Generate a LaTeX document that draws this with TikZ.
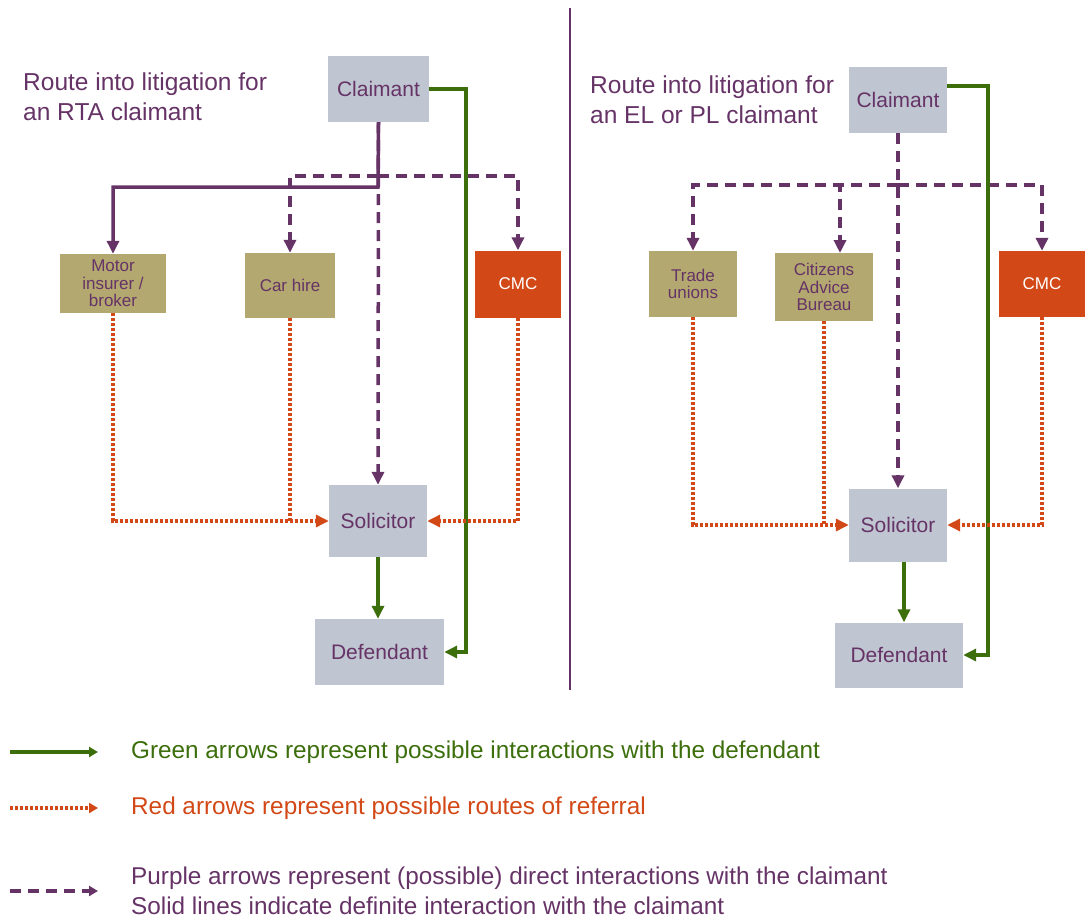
\documentclass[tikz,border=0pt]{standalone}
\usepackage{fontspec}
\setmainfont{Liberation Sans}
\usetikzlibrary{arrows.meta}

\definecolor{plum}{RGB}{102,51,102}
\definecolor{leaf}{RGB}{60,110,12}
\definecolor{rust}{RGB}{210,72,22}
\definecolor{slate}{RGB}{191,197,209}
\definecolor{khaki}{RGB}{178,168,112}

\tikzset{
  party/.style={fill=slate, text=plum, inner sep=0pt, font=\fontsize{21}{25}\selectfont},
  agent/.style={fill=khaki, text=plum, inner sep=0pt, align=center, font=\fontsize{17}{17.5}\selectfont},
  cmcbox/.style={fill=rust, text=white, inner sep=0pt, font=\fontsize{17}{20}\selectfont},
  heading/.style={anchor=west, text=plum, align=left, inner sep=0pt, font=\fontsize{24.5}{30}\selectfont},
  keytext/.style={anchor=west, align=left, inner sep=0pt, font=\fontsize{24.3}{30}\selectfont},
  greenline/.style={draw=leaf, line width=3.5pt, -{Triangle[length=13pt,width=12pt]}},
  purpleline/.style={draw=plum, line width=3.5pt, -{Triangle[length=13pt,width=12pt]}},
  purpledash/.style={purpleline, dash pattern=on 11pt off 7pt},
  reddots/.style={draw=rust, line width=3.5pt, dash pattern=on 3pt off 2pt},
  redline/.style={reddots, -{Triangle[length=13pt,width=12pt]}},
  keytip/.style={line width=3.5pt, -{Triangle[length=9pt,width=10pt]}},
}

\begin{document}
\begin{tikzpicture}[x=1pt, y=-1pt]
  \useasboundingbox (0,0) rectangle (1085,921);

  % Ayraç çizgisi
  \draw[plum, line width=2pt] (570,8) -- (570,690);

  % Sol taraf: RTA
  \node[heading] (ttl1) at (23,97) {Route into litigation for\\an RTA claimant};
  \node[party, minimum width=101pt, minimum height=66pt] (cl1) at (378.5,89) {Claimant};
  \node[agent, minimum width=106pt, minimum height=59pt] (motor) at (113,283.5) {Motor\\insurer /\\broker};
  \node[agent, minimum width=90pt, minimum height=65pt] (carhire) at (290,285.5) {Car hire};
  \node[cmcbox, minimum width=86pt, minimum height=67pt] (cmc1) at (518,284) {CMC};
  \node[party, minimum width=98pt, minimum height=72pt] (sol1) at (378,521) {Solicitor};
  \node[party, minimum width=129pt, minimum height=66pt] (def1) at (379.5,652) {Defendant};

  \coordinate (j1) at (378,187);
  \coordinate (k1) at (378,176);
  \coordinate (g1) at (466,400);

  \draw[purpleline] (cl1.south) -- (j1) -| (motor.north);
  \draw[purpledash] (cl1.south) -- (sol1.north);
  \draw[purpledash] (k1) -| (carhire.north);
  \draw[purpledash] (k1) -| (cmc1.north);
  \draw[greenline] (cl1.east) -| (g1) |- (def1.east);
  \draw[greenline] (sol1.south) -- (sol1.south |- def1.north);
  \draw[redline] (motor.south) |- (sol1.west);
  \draw[reddots] (carhire.south) -- (carhire.south |- sol1.west);
  \draw[redline] (cmc1.south) |- (sol1.east);

  % Sağ taraf: EL / PL
  \node[heading] (ttl2) at (590,100) {Route into litigation for\\an EL or PL claimant};
  \node[party, minimum width=98pt, minimum height=66pt] (cl2) at (898,100) {Claimant};
  \node[agent, minimum width=88pt, minimum height=66pt] (trade) at (693,284) {Trade\\unions};
  \node[agent, minimum width=98pt, minimum height=68pt] (cab) at (824,287) {Citizens\\Advice\\Bureau};
  \node[cmcbox, minimum width=86pt, minimum height=66pt] (cmc2) at (1042,284) {CMC};
  \node[party, minimum width=98pt, minimum height=73pt] (sol2) at (898,525) {Solicitor};
  \node[party, minimum width=128pt, minimum height=65pt] (def2) at (899,655) {Defendant};

  \coordinate (k2) at (898,185);
  \coordinate (g2) at (988,400);

  \draw[purpledash] (cl2.south) -- (sol2.north);
  \draw[purpledash] (k2) -| (trade.north);
  \draw[purpledash] (k2) -| (840,253);
  \draw[purpledash] (k2) -| (cmc2.north);
  \draw[greenline] ([yshift=14pt]cl2.east) -| (g2) |- (def2.east);
  \draw[greenline] ([xshift=6pt]sol2.south) -- ([xshift=6pt]sol2.south |- def2.north);
  \draw[redline] (trade.south) |- (sol2.west);
  \draw[reddots] (cab.south) -- (cab.south |- sol2.west);
  \draw[redline] (cmc2.south) |- (sol2.east);

  % Açıklama
  \coordinate (ga) at (10,752);
  \coordinate (gb) at (98,752);
  \coordinate (ra) at (10,808);
  \coordinate (rb) at (98,808);
  \coordinate (pa) at (10,891);
  \coordinate (pb) at (98,891);
  \draw[keytip, draw=leaf] (ga) -- (gb);
  \draw[keytip, draw=rust, dash pattern=on 3pt off 2pt] (ra) -- (rb);
  \draw[keytip, draw=plum, dash pattern=on 11pt off 7pt] (pa) -- (pb);
  \node[keytext, text=leaf] (kg) at (131,752) {Green arrows represent possible interactions with the defendant};
  \node[keytext, text=rust] (kr) at (131,808) {Red arrows represent possible routes of referral};
  \node[keytext, text=plum] (kp) at (131,891) {Purple arrows represent (possible) direct interactions with the claimant\\Solid lines indicate definite interaction with the claimant};
\end{tikzpicture}
\end{document}
